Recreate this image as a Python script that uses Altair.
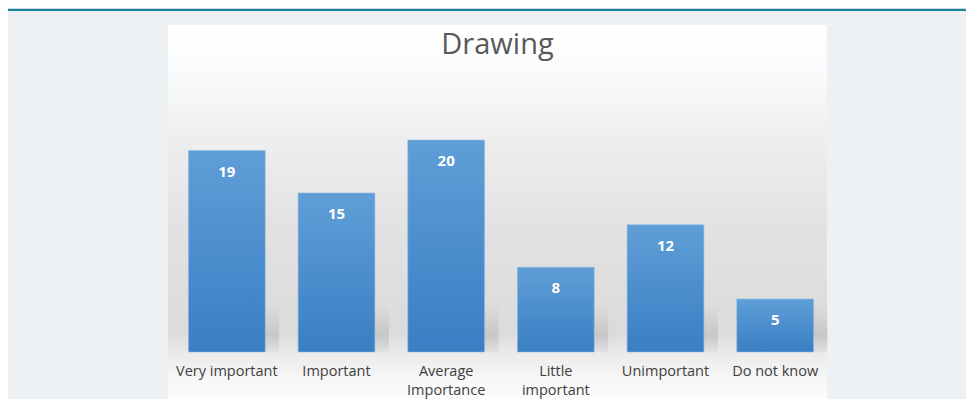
import altair as alt
import pandas as pd

categories = ["Very important", "Important", "Average Importance",
              "Little important", "Unimportant", "Do not know"]
label_lines = ["Very important", "Important", "Average\nImportance",
               "Little\nimportant", "Unimportant", "Do not know"]
values = [19, 15, 20, 8, 12, 5]
title_text = "Drawing"

df = pd.DataFrame({"category": categories, "value": values, "label": label_lines})

W, H = 658, 212

xenc = alt.X("category:N", sort=categories, axis=None,
             scale=alt.Scale(paddingInner=0.3, paddingOuter=0.15))
yscale = alt.Scale(domain=[0, 20], nice=False, zero=True)

one = pd.DataFrame({"k": [0]})

# teal header line
header = alt.Chart(one).mark_rect(color="#17869c").encode(
    x=alt.value(-166), x2=alt.value(W + 150), y=alt.value(-131), y2=alt.value(-129))
header_shadow = alt.Chart(one).mark_rect(color="#cfd8de").encode(
    x=alt.value(-166), x2=alt.value(W + 150), y=alt.value(-132), y2=alt.value(-131))

# chart panel with gradient
panel = alt.Chart(one).mark_rect(
    color=alt.LinearGradient(
        gradient="linear", x1=0, y1=0, x2=0, y2=1,
        stops=[
            alt.GradientStop(offset=0.0, color="#ffffff"),
            alt.GradientStop(offset=0.1, color="#fbfcfd"),
            alt.GradientStop(offset=0.3, color="#eeeeee"),
            alt.GradientStop(offset=0.5, color="#e3e3e3"),
            alt.GradientStop(offset=0.8, color="#dbdbdb"),
            alt.GradientStop(offset=0.86, color="#ececec"),
            alt.GradientStop(offset=0.92, color="#f7f7f7"),
            alt.GradientStop(offset=1.0, color="#ffffff"),
        ])
).encode(x=alt.value(-4), x2=alt.value(655), y=alt.value(-115), y2=alt.value(270))

# soft floor shadow to the right of each bar
shadow = alt.Chart(df).mark_bar(
    xOffset=14,
    color=alt.LinearGradient(
        gradient="linear", x1=0, y1=0, x2=0, y2=1,
        stops=[
            alt.GradientStop(offset=0.0, color="rgba(170,170,170,0)"),
            alt.GradientStop(offset=0.65, color="rgba(160,160,160,0.35)"),
            alt.GradientStop(offset=1.0, color="rgba(160,160,160,0.1)"),
        ])
).encode(x=xenc, y=alt.value(H - 48), y2=alt.value(H))

bars = alt.Chart(df).mark_bar(
    stroke="#8dbbe6", strokeWidth=0.6,
    color=alt.LinearGradient(
        gradient="linear", x1=0, y1=0, x2=0, y2=1,
        stops=[
            alt.GradientStop(offset=0.0, color="#5f9ed7"),
            alt.GradientStop(offset=1.0, color="#3a7fc4"),
        ])
).encode(
    x=xenc,
    y=alt.Y("value:Q", scale=yscale, axis=None),
)

values_text = alt.Chart(df).mark_text(
    color="white", fontWeight="bold", fontSize=15, font="Open Sans",
    baseline="middle", dy=21
).encode(x=xenc, y=alt.Y("value:Q", scale=yscale), text="value:Q")

labels = alt.Chart(df).mark_text(
    color="#404040", fontSize=14.5, font="Open Sans", baseline="top",
    lineBreak="\n", lineHeight=19
).encode(x=xenc, y=alt.value(H + 13), text="label:N")

title = alt.Chart(one).mark_text(
    text=title_text, font="Open Sans", fontSize=29, color="#595959",
    baseline="middle", align="center"
).encode(x=alt.value(325.5), y=alt.value(-95))

chart = alt.layer(
    header_shadow, header, panel, shadow, bars, values_text, labels, title
).properties(
    width=W, height=H,
    autosize=alt.AutoSizeParams(type="none"),
    padding={"left": 164, "top": 132, "right": 136, "bottom": 47},
    background="#edf1f4",
).configure_view(stroke=None)

chart.save("out.html", embed_options={"renderer": "svg", "actions": False})
